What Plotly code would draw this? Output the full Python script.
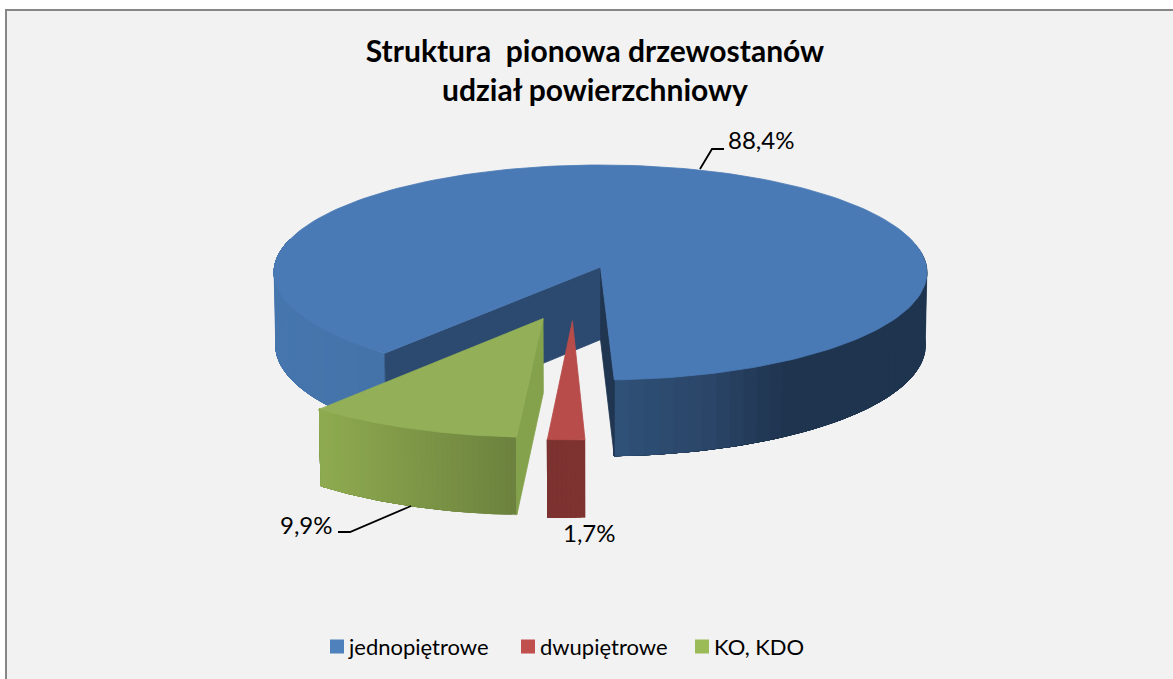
import math
import plotly.graph_objects as go

# Chart content
TITLE = "Struktura  pionowa drzewostanów<br>udział powierzchniowy"
categories = ["jednopiętrowe", "dwupiętrowe", "KO, KDO"]
shares = [88.4, 1.7, 9.9]

# Slice colours
legend_colors = ["#4f81bd", "#c0504d", "#9bbb59"]
top_colors = ["#4a7ab5", "#b84c4a", "#93b058"]

WIDTH, HEIGHT = 1173, 679
FONT = "Lato, Carlito, Calibri, sans-serif"

# Projection of the pie disc on to the page
CX, CY = 600.5, 267.0
RX, RY = 326.0, 107.2
THICK = 73.0
PERSP, PERSP_Z = 0.051, 0.005
FIRST_ANGLE = 219.46           # clockwise from the back of the pie
EXPLODE = [(0.0, 0.0), (-0.084, 0.49), (-0.172, 0.47)]


def project(u, v, z=0.0):
    w = 1 - PERSP * v + PERSP_Z * z
    return CX + RX * u / w, CY + (RY * v + THICK * z) / w


def rim(angle, offset, z=0.0):
    a = math.radians(angle)
    return project(offset[0] + math.sin(a), offset[1] - math.cos(a), z)


def hex_rgb(c):
    return tuple(int(c[i:i + 2], 16) for i in (1, 3, 5))


def blend(stops, t):
    """Colour at position t along a list of (position, hex) stops."""
    if t <= stops[0][0]:
        return stops[0][1]
    for (t0, c0), (t1, c1) in zip(stops, stops[1:]):
        if t <= t1:
            f = (t - t0) / (t1 - t0)
            rgb = [round(a + (b - a) * f) for a, b in zip(hex_rgb(c0), hex_rgb(c1))]
            return "#%02x%02x%02x" % tuple(rgb)
    return stops[-1][1]


fig = go.Figure()


def polygon(points, color, edge=0.8):
    xs, ys = zip(*points)
    fig.add_trace(go.Scatter(
        x=list(xs) + [xs[0]], y=list(ys) + [ys[0]], mode="lines", fill="toself",
        fillcolor=color, line=dict(color=color, width=edge),
        hoverinfo="skip", showlegend=False))


def wall(a0, a1, offset, stops, steps=40):
    """Outer rim between two angles, shaded by horizontal position.

    Each band runs on to the far end of the rim and the next band paints over
    it, which keeps hairline seams from showing between the shades.
    """
    for i in range(steps):
        s0 = a0 + (a1 - a0) * i / steps
        s1 = a0 + (a1 - a0) * (i + 1) / steps
        mid = math.sin(math.radians((s0 + s1) / 2))
        arc = [s0 + (a1 - s0) * j / 60 for j in range(61)]
        pts = [rim(s, offset) for s in arc] + [rim(s, offset, 1) for s in reversed(arc)]
        polygon(pts, blend(stops, mid), edge=0.4)


def cut_face(angle, offset, color):
    """Flat radial face running from the apex to the rim."""
    polygon([project(offset[0], offset[1]), rim(angle, offset),
             rim(angle, offset, 1), project(offset[0], offset[1], 1)], color)


def top(a0, a1, offset, color, steps=200):
    pts = [project(offset[0], offset[1])]
    pts += [rim(a0 + (a1 - a0) * i / steps, offset) for i in range(steps + 1)]
    polygon(pts, color)


# Angular extent of each slice, clockwise from the first angle
spans = []
start = FIRST_ANGLE
for share in shares:
    end = start + share * 3.6
    spans.append((start, end))
    start = end

# Large slice: rim, then the two exposed cut faces, then the top
a0, a1 = spans[0]
wall(a0, 285, EXPLODE[0], [(-1.0, "#4676ae"), (-0.66, "#4373a8")])
wall(a1 - 100, a1, EXPLODE[0], [(0.04, "#2f5178"), (0.32, "#2a4568"), (0.54, "#1f344f"), (1.0, "#1f344f")])
cut_face(a0, EXPLODE[0], "#2c4a70")
cut_face(a1, EXPLODE[0], "#1f3550")
top(a0, a1, EXPLODE[0], top_colors[0])

# Small slice: only its rim shows
a0, a1 = spans[1]
wall(a0, a1, EXPLODE[1], [(-0.07, "#7c3230"), (0.04, "#7f3331")], steps=8)
top(a0, a1, EXPLODE[1], top_colors[1])

# Middle slice: rim, leading cut face, top
a0, a1 = spans[2]
wall(a0, a1, EXPLODE[2], [(-0.64, "#8fab50"), (-0.07, "#6c823e")])
cut_face(a0, EXPLODE[2], "#84a24b")
top(a0, a1, EXPLODE[2], top_colors[2])

# Leader lines from the slices to their labels
leaders = [
    ([700, 712, 724], [169, 149, 149]),
    ([411, 350, 338], [506, 532, 532]),
]
for lx, ly in leaders:
    fig.add_trace(go.Scatter(x=lx, y=ly, mode="lines", line=dict(color="#000000", width=1.8),
                             hoverinfo="skip", showlegend=False))

# Percentage labels: text anchor positions per slice
label_pos = [(726, 139, "left"), (561, 532, "left"), (335, 524, "right")]
annotations = [
    dict(x=x, y=y, xref="x", yref="y", text=f"{share:.1f}%".replace(".", ","), showarrow=False,
         xanchor=anchor, yanchor="middle", font=dict(family=FONT, size=24, color="#000000"))
    for share, (x, y, anchor) in zip(shares, label_pos)
]

# Key below the pie: a swatch and a name per slice, set out on one row
KEY_Y = 646.5
key_swatch_x = [337, 528, 702]
key_text_x = [346, 538, 712]
for name, color, sx, tx in zip(categories, legend_colors, key_swatch_x, key_text_x):
    fig.add_trace(go.Scatter(x=[sx], y=[KEY_Y], mode="markers", name=name, showlegend=False,
                             hoverinfo="name",
                             marker=dict(symbol="square", size=14, color=color)))
    annotations.append(dict(x=tx, y=KEY_Y, xref="x", yref="y", text=name, showarrow=False,
                            xanchor="left", yanchor="middle",
                            font=dict(family=FONT, size=22, color="#000000")))

fig.update_layout(
    width=WIDTH, height=HEIGHT, margin=dict(l=0, r=0, t=0, b=0),
    paper_bgcolor="#ffffff", plot_bgcolor="#ffffff",
    font=dict(family=FONT, color="#000000"),
    showlegend=False,
    title=dict(text=TITLE, x=595 / WIDTH, xanchor="center", y=1 - 62 / HEIGHT, yanchor="top",
               font=dict(family=FONT, size=30, color="#000000", weight="bold")),
    xaxis=dict(range=[0, WIDTH], visible=False, fixedrange=True),
    yaxis=dict(range=[HEIGHT, 0], visible=False, fixedrange=True),
    shapes=[dict(type="rect", xref="x", yref="y", layer="below", x0=6, y0=10, x1=WIDTH + 10, y1=HEIGHT + 10,
                 fillcolor="#f2f2f2", line=dict(color="#868686", width=2))],
    annotations=annotations,
)

fig.write_html("out.html")
